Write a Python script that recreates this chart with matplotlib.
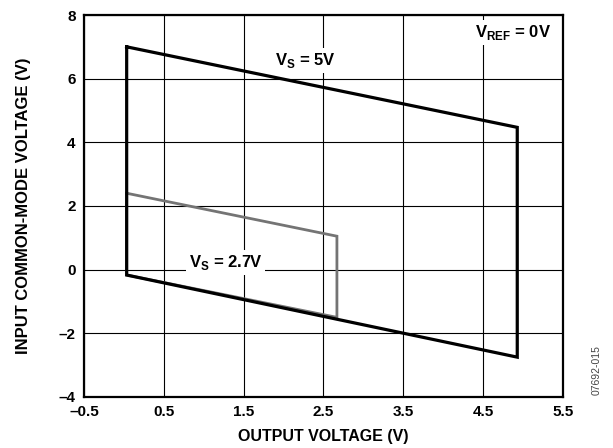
import matplotlib
matplotlib.use('Agg')
import matplotlib.pyplot as plt

plt.rcParams['font.family'] = ['Liberation Sans', 'DejaVu Sans']
plt.rcParams['mathtext.fontset'] = 'custom'
plt.rcParams['mathtext.rm'] = 'Liberation Sans'
plt.rcParams['mathtext.bf'] = 'Liberation Sans:bold'

# === 数据 ===
vs5_x = [0.035, 4.93, 4.93, 0.035, 0.035]
vs5_y = [7.0, 4.47, -2.75, -0.17, 7.0]
vs27_x = [0.035, 2.67, 2.67, 0.035, 0.035]
vs27_y = [2.4, 1.05, -1.5, -0.17, 2.4]
x_ticks = [-0.5, 0.5, 1.5, 2.5, 3.5, 4.5, 5.5]
x_labels = ['–0.5', '0.5', '1.5', '2.5', '3.5', '4.5', '5.5']
y_ticks = [-4, -2, 0, 2, 4, 6, 8]
y_labels = ['–4', '–2', '0', '2', '4', '6', '8']

fig = plt.figure(figsize=(6.13, 4.48), dpi=100)
ax = fig.add_axes([0.137, 0.114, 0.781, 0.8525])

ax.plot(vs27_x, vs27_y, color='#747474', lw=2.0, solid_joinstyle='miter', zorder=3)
ax.plot(vs5_x, vs5_y, color='black', lw=2.3, solid_joinstyle='miter', zorder=4)

ax.set_xlim(-0.5, 5.5)
ax.set_ylim(-4, 8)
ax.set_xticks(x_ticks)
ax.set_xticklabels(x_labels)
ax.set_yticks(y_ticks)
ax.set_yticklabels(y_labels)
ax.tick_params(length=0, labelsize=11, pad=6)
for lab in ax.get_xticklabels() + ax.get_yticklabels():
    lab.set_fontweight('bold')
ax.grid(True, color='black', lw=0.8)
for s in ax.spines.values():
    s.set_linewidth(1.6)

ax.set_xlabel('OUTPUT VOLTAGE (V)', fontsize=11.5, fontweight='bold', labelpad=7)
ax.set_ylabel('INPUT COMMON-MODE VOLTAGE (V)', fontsize=12, fontweight='bold', labelpad=20)

box = dict(facecolor='white', edgecolor='none', pad=2)
ax.text(2.27, 6.58, r'V$_\mathbf{S}$ = 5V', fontsize=12, fontweight='bold',
        ha='center', va='center', bbox=box, zorder=5)
ax.text(1.27, 0.23, r'V$_\mathbf{S}$ = 2.7V', fontsize=12, fontweight='bold',
        ha='center', va='center', bbox=box, zorder=5)
ax.text(5.36, 7.45, r'V$_\mathbf{REF}$ = 0V', fontsize=12, fontweight='bold',
        ha='right', va='center', bbox=box, zorder=5)

fig.text(0.974, 0.175, '07692-015', fontsize=7.5, color='#444444',
         rotation=90, ha='center', va='center')

plt.savefig('out.png', dpi=100)
plt.close()
